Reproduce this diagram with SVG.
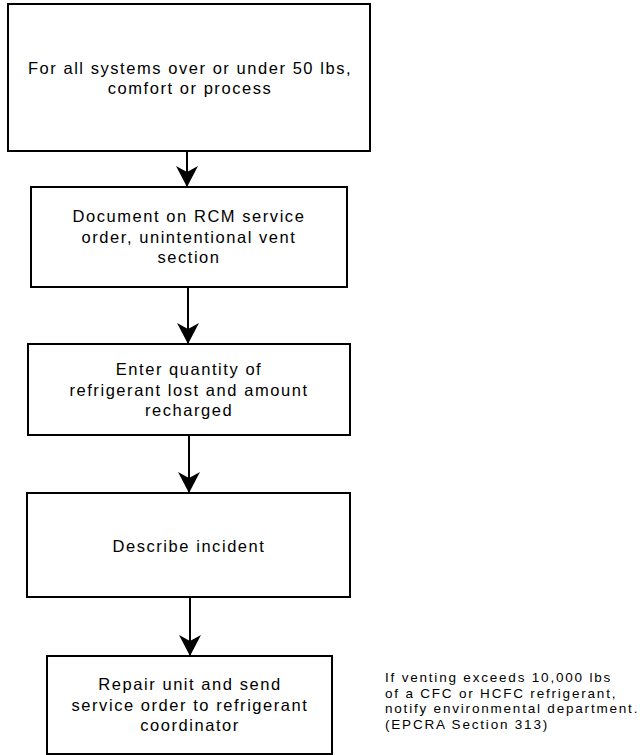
<svg xmlns="http://www.w3.org/2000/svg" width="643" height="755" viewBox="0 0 643 755">
<style>
.box{fill:#fff;stroke:#000;stroke-width:2}
.t{font-family:"Liberation Sans",Arial,sans-serif;font-size:16.5px;letter-spacing:1.55px;fill:#000;text-anchor:middle}
.note{font-family:"Liberation Sans",Arial,sans-serif;font-size:13.5px;letter-spacing:1.8px;fill:#000}
.c{stroke:#000;stroke-width:2;fill:none;marker-end:url(#ah)}
</style>
<defs>
<marker id="ah" viewBox="-21 -11 21 22" refX="0" refY="0" markerWidth="21" markerHeight="22" markerUnits="userSpaceOnUse" orient="auto">
<path d="M0,0 L-21,-11 L-15,0 L-21,11 Z" fill="#000"/>
</marker>
</defs>
<g id="connectors">
<line class="c" x1="187" y1="151" x2="187" y2="187"/>
<line class="c" x1="188" y1="287" x2="188" y2="344"/>
<line class="c" x1="189" y1="435" x2="189" y2="493"/>
<line class="c" x1="190" y1="597" x2="190" y2="656"/>
</g>
<g id="n1">
<rect class="box" x="8" y="4" width="362" height="147"/>
<text class="t" x="190" y="74">For all systems over or under 50 lbs,</text>
<text class="t" x="190" y="94">comfort or process</text>
</g>
<g id="n2">
<rect class="box" x="31" y="187" width="316" height="100"/>
<text class="t" x="189" y="222">Document on RCM service</text>
<text class="t" x="189" y="242.5">order, unintentional vent</text>
<text class="t" x="189" y="263">section</text>
</g>
<g id="n3">
<rect class="box" x="28" y="344" width="322" height="91"/>
<text class="t" x="189" y="375">Enter quantity of</text>
<text class="t" x="189" y="396">refrigerant lost and amount</text>
<text class="t" x="189" y="416">recharged</text>
</g>
<g id="n4">
<rect class="box" x="27" y="493" width="323" height="104"/>
<text class="t" x="189" y="552">Describe incident</text>
</g>
<g id="n5">
<rect class="box" x="47" y="656" width="285" height="98"/>
<text class="t" x="190" y="690">Repair unit and send</text>
<text class="t" x="190" y="711">service order to refrigerant</text>
<text class="t" x="190" y="731">coordinator</text>
</g>
<g id="note">
<text class="note" x="385" y="682">If venting exceeds 10,000 lbs</text>
<text class="note" x="385" y="697.5">of a CFC or HCFC refrigerant,</text>
<text class="note" x="385" y="713">notify environmental department.</text>
<text class="note" x="385" y="728.5">(EPCRA Section 313)</text>
</g>
</svg>
